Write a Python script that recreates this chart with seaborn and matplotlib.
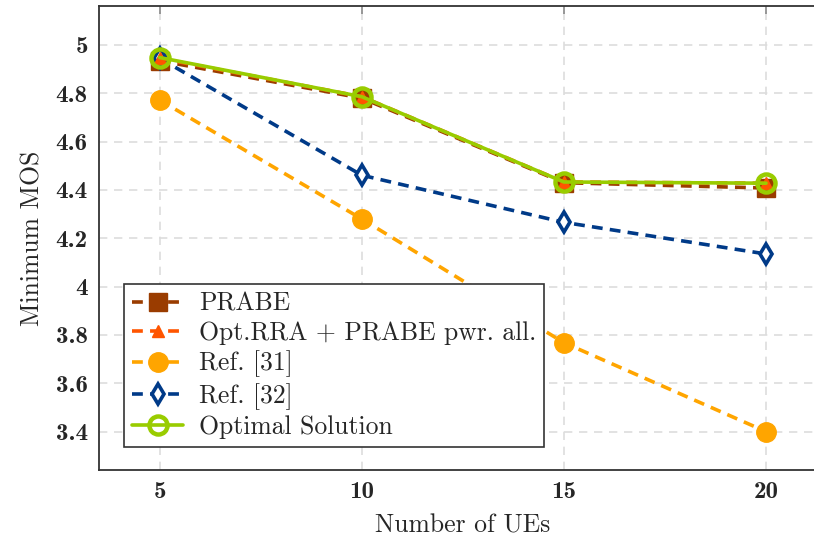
import matplotlib
matplotlib.use("Agg")
import matplotlib.pyplot as plt
import seaborn as sns
import pandas as pd

# Number of UEs
num_ues = [5, 10, 15, 20]

# Minimum MOS per scheme
prabe = [4.935, 4.780, 4.430, 4.408]
opt_rra = [4.945, 4.786, 4.433, 4.428]
ref31 = [4.772, 4.280, 3.768, 3.400]
ref32 = [4.945, 4.461, 4.266, 4.135]
optimal = [4.948, 4.786, 4.433, 4.428]

labels = ["PRABE", "Opt.RRA + PRABE pwr. all.", "Ref. [31]", "Ref. [32]", "Optimal Solution"]
y_ticks = [3.4, 3.6, 3.8, 4.0, 4.2, 4.4, 4.6, 4.8, 5.0]
y_tick_labels = ["3.4", "3.6", "3.8", "4", "4.2", "4.4", "4.6", "4.8", "5"]

sns.set_theme(style="white")
plt.rcParams["font.family"] = ["cmr10", "DejaVu Serif"]
plt.rcParams["axes.formatter.use_mathtext"] = True

fig = plt.figure(figsize=(8.14, 5.42), dpi=100)
ax = fig.add_axes([0.1216, 0.1328, 0.894, 0.856])

styles = [
    dict(color="#9a3c00", marker="s", ls=(0, (3, 2)), ms=13, mfc="#9a3c00", mec="#9a3c00", mew=1, z=3),
    dict(color="#ff5500", marker="^", ls=(0, (3, 2)), ms=9, mfc="#ff5500", mec="#ff5500", mew=1, z=5),
    dict(color="#ffa500", marker="o", ls=(0, (3, 2)), ms=14, mfc="#ffa500", mec="#ffa500", mew=1, z=3),
    dict(color="#003a88", marker="d", ls=(0, (3, 2)), ms=10, mfc="white", mec="#003a88", mew=2.6, z=4),
    dict(color="#99cc00", marker="o", ls="-", ms=13, mfc="none", mec="#99cc00", mew=3.2, z=6),
]

series = [prabe, opt_rra, ref31, ref32, optimal]
for name, vals, st in zip(labels, series, styles):
    df = pd.DataFrame({"ues": num_ues, "mos": vals})
    sns.lineplot(data=df, x="ues", y="mos", ax=ax, color=st["color"], marker=st["marker"],
                 linestyle=st["ls"], linewidth=2.6, markersize=st["ms"],
                 markerfacecolor=st["mfc"], markeredgecolor=st["mec"], markeredgewidth=st["mew"],
                 label=name, zorder=st["z"])

ax.set_xlim(3.5, 21.5)
ax.set_ylim(3.241, 5.161)
ax.set_xticks(num_ues)
ax.set_xticklabels([str(v) for v in num_ues])
ax.set_yticks(y_ticks)
ax.set_yticklabels(y_tick_labels)

for lab in ax.get_xticklabels() + ax.get_yticklabels():
    lab.set_fontfamily(["cmb10", "DejaVu Serif"])
    lab.set_fontsize(18)

ax.grid(True, color="#dddddd", linestyle=(0, (5, 4)), linewidth=1.2)
ax.set_axisbelow(True)
ax.tick_params(axis="both", direction="in", length=6, width=1.2, color="#888888",
               top=True, right=True, pad=8)
for sp in ax.spines.values():
    sp.set_color("#333333")
    sp.set_linewidth(1.3)

ax.set_xlabel("Number of UEs", fontsize=18.5, labelpad=8)
ax.set_ylabel("Minimum MOS", fontsize=18.5, labelpad=8)

leg = ax.legend(loc="lower left", bbox_to_anchor=(0.017, 0.022), fontsize=18.5, frameon=True,
                fancybox=False, edgecolor="#333333", framealpha=1, borderpad=0.3,
                labelspacing=0.22, handlelength=2.0, handletextpad=0.6)
leg.get_frame().set_linewidth(1.2)

fig.savefig("out.png", dpi=100)
